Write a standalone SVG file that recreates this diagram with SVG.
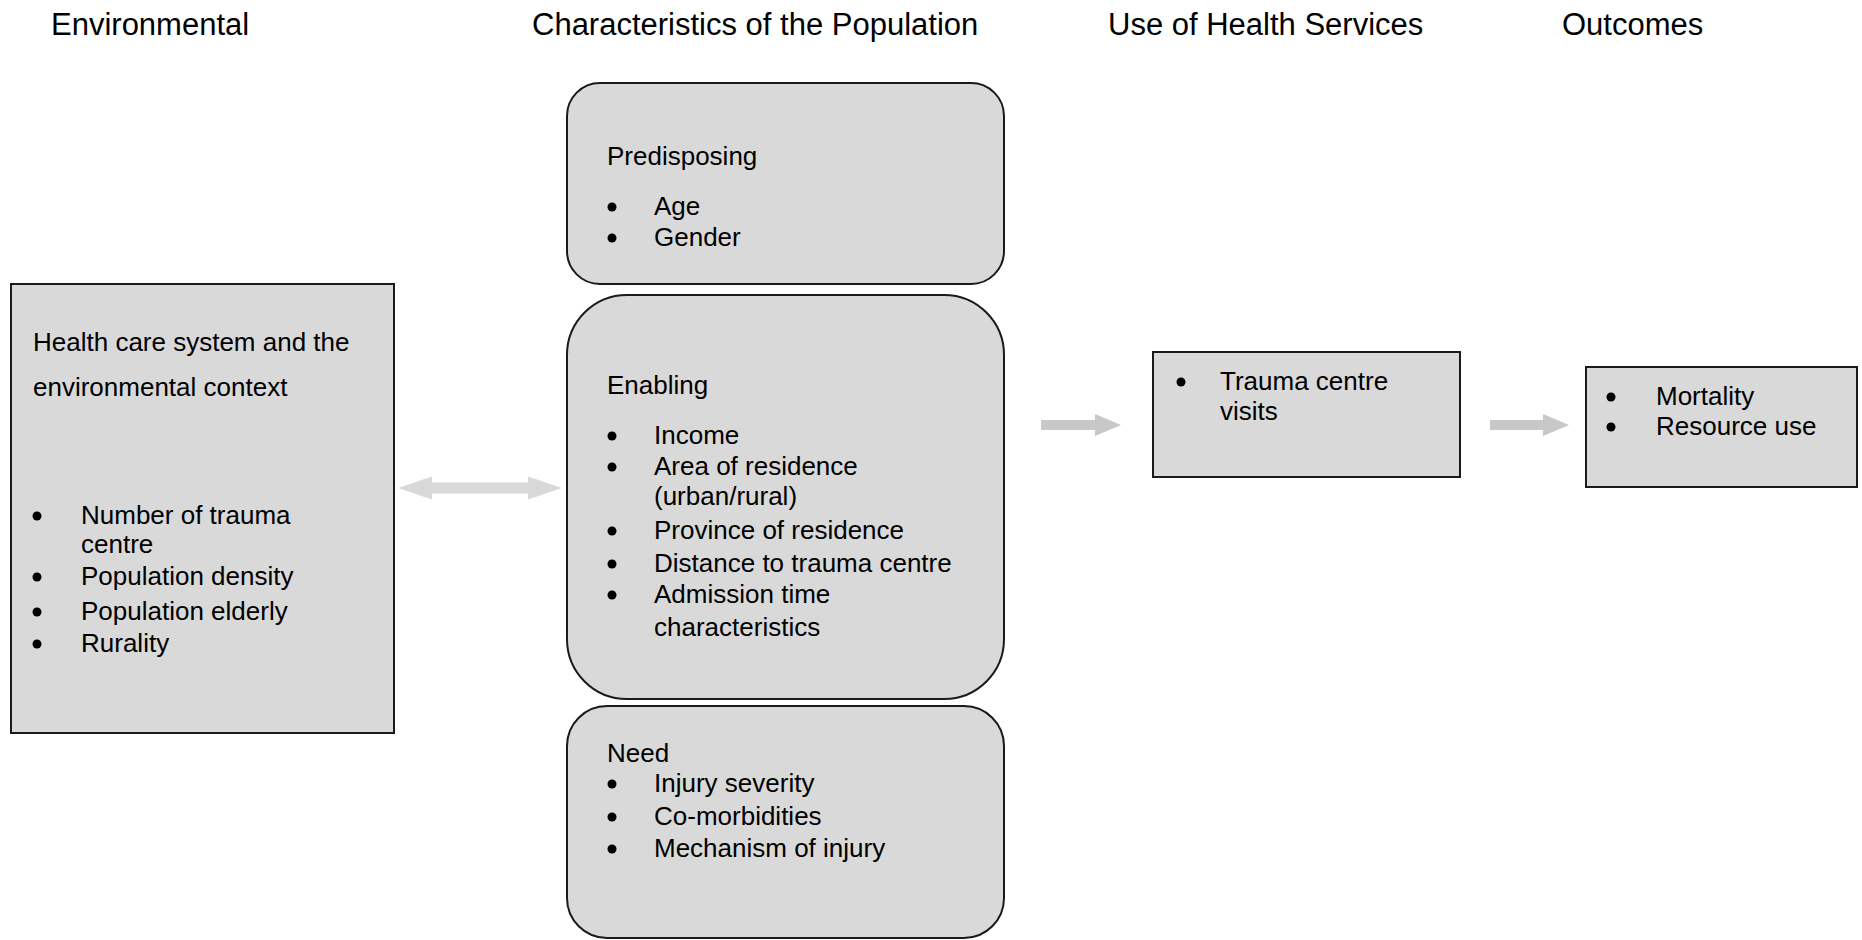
<svg xmlns="http://www.w3.org/2000/svg" width="1862" height="940" viewBox="0 0 1862 940">
<style>
text{font-family:"Liberation Sans",Arial,sans-serif;fill:#000}
.hdr{font-size:31px}
.t{font-size:26px}
.box{fill:#d9d9d9;stroke:#1a1a1a;stroke-width:2}
.dot{fill:#000}
</style>
<rect width="1862" height="940" fill="#fff"/>
<g id="headers">
<text class="hdr" x="51" y="35">Environmental</text>
<text class="hdr" x="532" y="35">Characteristics of the Population</text>
<text class="hdr" x="1108" y="35">Use of Health Services</text>
<text class="hdr" x="1562" y="35">Outcomes</text>
</g>
<g id="connectors">
<polygon fill="#d9d9d9" points="398,488 432,476.5 432,482.5 528,482.5 528,476.5 562,488 528,499.5 528,493.5 432,493.5 432,499.5"/>
<polygon fill="#c8c8c8" points="1041,420 1095,420 1095,414 1121,425 1095,436 1095,430 1041,430"/>
<polygon fill="#c8c8c8" points="1490,420 1543,420 1543,414 1569,425 1543,436 1543,430 1490,430"/>
</g>
<g id="environmental">
<rect class="box" x="11" y="284" width="383" height="449"/>
<text class="t" x="33" y="351">Health  care system and the</text>
<text class="t" x="33" y="396">environmental  context</text>
<circle class="dot" cx="37" cy="516" r="4.5"/><text class="t" x="81" y="524">Number  of trauma</text>
<text class="t" x="81" y="553">centre</text>
<circle class="dot" cx="37" cy="577" r="4.5"/><text class="t" x="81" y="585">Population  density</text>
<circle class="dot" cx="37" cy="612" r="4.5"/><text class="t" x="81" y="620">Population  elderly</text>
<circle class="dot" cx="37" cy="644" r="4.5"/><text class="t" x="81" y="652">Rurality</text>
</g>
<g id="predisposing">
<rect class="box" x="567" y="83" width="437" height="201" rx="33" ry="33"/>
<text class="t" x="607" y="165">Predisposing</text>
<circle class="dot" cx="612" cy="207" r="4.5"/><text class="t" x="654" y="215">Age</text>
<circle class="dot" cx="612" cy="238" r="4.5"/><text class="t" x="654" y="246">Gender</text>
</g>
<g id="enabling">
<rect class="box" x="567" y="295" width="437" height="404" rx="60" ry="60"/>
<text class="t" x="607" y="394">Enabling</text>
<circle class="dot" cx="612" cy="436" r="4.5"/><text class="t" x="654" y="444">Income</text>
<circle class="dot" cx="612" cy="467" r="4.5"/><text class="t" x="654" y="475">Area of residence</text>
<text class="t" x="654" y="505">(urban/rural)</text>
<circle class="dot" cx="612" cy="531" r="4.5"/><text class="t" x="654" y="539">Province of residence</text>
<circle class="dot" cx="612" cy="564" r="4.5"/><text class="t" x="654" y="572">Distance to trauma centre</text>
<circle class="dot" cx="612" cy="595" r="4.5"/><text class="t" x="654" y="603">Admission time</text>
<text class="t" x="654" y="636">characteristics</text>
</g>
<g id="need">
<rect class="box" x="567" y="706" width="437" height="232" rx="40" ry="40"/>
<text class="t" x="607" y="762">Need</text>
<circle class="dot" cx="612" cy="784" r="4.5"/><text class="t" x="654" y="792">Injury severity</text>
<circle class="dot" cx="612" cy="817" r="4.5"/><text class="t" x="654" y="825">Co-morbidities</text>
<circle class="dot" cx="612" cy="849" r="4.5"/><text class="t" x="654" y="857">Mechanism of injury</text>
</g>
<g id="use-of-services">
<rect class="box" x="1153" y="352" width="307" height="125"/>
<circle class="dot" cx="1181" cy="382" r="4.5"/><text class="t" x="1220" y="390">Trauma centre</text>
<text class="t" x="1220" y="420">visits</text>
</g>
<g id="outcomes">
<rect class="box" x="1586" y="367" width="271" height="120"/>
<circle class="dot" cx="1611" cy="397" r="4.5"/><text class="t" x="1656" y="405">Mortality</text>
<circle class="dot" cx="1611" cy="427" r="4.5"/><text class="t" x="1656" y="435">Resource use</text>
</g>
</svg>
